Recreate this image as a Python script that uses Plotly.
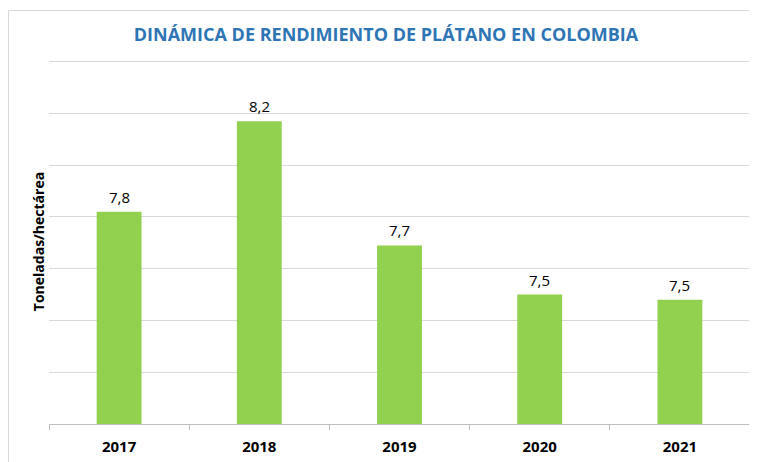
import plotly.graph_objects as go

years = ["2017", "2018", "2019", "2020", "2021"]
rendimiento = [7.82, 8.17, 7.69, 7.50, 7.48]

title_text = "DINÁMICA DE RENDIMIENTO DE PLÁTANO EN COLOMBIA"
y_title = "Toneladas/hectárea"

# page body has an 8px margin, so the figure is sized/placed accordingly
OFF = 8
W, H = 757 - OFF, 462 - OFF
ml, mr, mt, mb = 49 - OFF, 7, 59.4 - OFF, 38
pw = W - ml - mr
ph = H - mt - mb

fig = go.Figure()
fig.add_trace(go.Bar(
    x=years, y=rendimiento,
    marker=dict(color="#92D050", line=dict(width=0)),
    hoverinfo="x+y",
))

for i, v in enumerate(rendimiento):
    fig.add_annotation(x=i, y=v, xref="x", yref="y",
                       text=f"{v:.1f}".replace(".", ","),
                       showarrow=False, yanchor="bottom", yshift=3,
                       font=dict(family="Open Sans", size=15, color="#000000"))

fig.add_shape(type="rect", xref="paper", yref="paper",
              x0=(0.5 - ml) / pw, x1=1.1, y0=-0.3, y1=(H - mb - 3) / ph,
              line=dict(color="#D9D9D9", width=1), fillcolor="rgba(0,0,0,0)",
              layer="below")

fig.update_layout(
    width=W, height=H,
    margin=dict(l=ml, r=mr, t=mt, b=mb, autoexpand=False),
    paper_bgcolor="white", plot_bgcolor="white",
    bargap=0.68,
    showlegend=False,
    title=dict(text="<b>" + title_text + "</b>", x=(386 - OFF) / W, xanchor="center",
               yref="container", y=1 - (35 - OFF) / H, yanchor="middle",
               font=dict(family="Open Sans", size=18, color="#2E75B6")),
    xaxis=dict(type="category", tickson="boundaries", ticks="outside", ticklen=5,
               tickcolor="#BFBFBF", showline=True, linecolor="#BFBFBF", linewidth=1,
               showgrid=False, automargin=False, ticklabelstandoff=9,
               tickfont=dict(family="Open Sans", size=15, color="#000000", weight="bold")),
    yaxis=dict(range=[7.0, 8.41], dtick=0.2, tick0=7.0, showticklabels=False, showgrid=True,
               gridcolor="#D9D9D9", gridwidth=1, zeroline=False, showline=False,
               automargin=False,
               title=dict(text="<b>" + y_title + "</b>", standoff=0,
                          font=dict(family="Open Sans", size=14, color="#000000"))),
)

fig.write_html("out.html")
